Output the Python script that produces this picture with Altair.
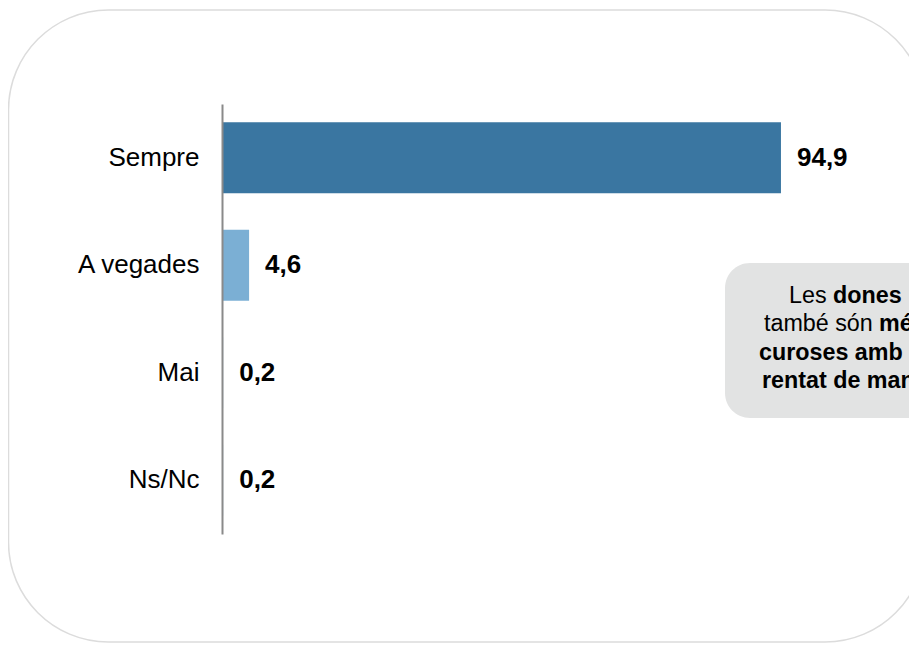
import altair as alt
import pandas as pd

# ---- data ----
categories = ["Sempre", "A vegades", "Mai", "Ns/Nc"]
values = [94.9, 4.6, 0.2, 0.2]
value_labels = ["94,9", "4,6", "0,2", "0,2"]
bar_colors = ["#3A76A1", "#7BAFD4", "#BDD7EE", "#BDD7EE"]

# callout text segments: (text, weight)
callout_lines = [
    [("Les ", "normal"), ("dones", "bold")],
    [("també són ", "normal"), ("més", "bold")],
    [("curoses amb el", "bold")],
    [("rentat de mans", "bold")],
]

df = pd.DataFrame({"cat": categories, "val": values, "label": value_labels})

FONT = "Liberation Sans, Arial, sans-serif"
W, H = 589, 430
one = alt.Data(values=[{}])

y_enc = alt.Y(
    "cat:N",
    sort=categories,
    scale=alt.Scale(paddingInner=0.34, paddingOuter=0.17),
    axis=alt.Axis(
        title=None, ticks=False, grid=False,
        domainColor="#8a8a8a", domainWidth=2,
        labelFont=FONT, labelFontSize=26, labelColor="#000000",
        labelPadding=23, zindex=1,
    ),
)
x_enc = alt.X("val:Q", scale=alt.Scale(domain=[0, 100], nice=False, zero=True), axis=None)

# outer rounded frame
frame = alt.Chart(one).mark_rect(
    fill="white", stroke="#DCDCDC", strokeWidth=1.5, cornerRadius=100
).encode(
    x=alt.value(-213.5), x2=alt.value(703),
    y=alt.value(-94), y2=alt.value(538),
)

bars = alt.Chart(df).mark_bar().encode(
    x=x_enc,
    y=y_enc,
    color=alt.Color("cat:N", scale=alt.Scale(domain=categories, range=bar_colors), legend=None),
)

texts = alt.Chart(df).mark_text(
    align="left", baseline="middle", dx=16,
    font=FONT, fontSize=26, fontWeight="bold", color="#000000",
).encode(x=x_enc, y=y_enc, text="label:N")

# callout box
box = alt.Chart(one).mark_rect(fill="#E2E3E3", cornerRadius=25).encode(
    x=alt.value(503), x2=alt.value(760),
    y=alt.value(159), y2=alt.value(314),
)

# callout text segments (positions in pixels, decoration only)
seg_pos = [
    [(567, 199), (611, 199)],
    [(542, 227), (657, 227)],
    [(537, 256)],
    [(540, 284)],
]
callout_layers = []
for line, poss in zip(callout_lines, seg_pos):
    for (txt, wt), (px, py) in zip(line, poss):
        callout_layers.append(
            alt.Chart(one).mark_text(
                text=txt, align="left", baseline="alphabetic",
                font=FONT, fontSize=23.3, fontWeight=wt, color="#000000",
            ).encode(x=alt.value(px), y=alt.value(py))
        )

chart = alt.layer(frame, bars, texts, box, *callout_layers).properties(
    width=W, height=H,
    padding={"left": 214, "top": 96, "right": 98, "bottom": 110},
    autosize=alt.AutoSizeParams(type="none"),
    background="white",
).configure_view(stroke=None)

chart.save("out.html", embed_options={"renderer": "svg", "actions": False})
